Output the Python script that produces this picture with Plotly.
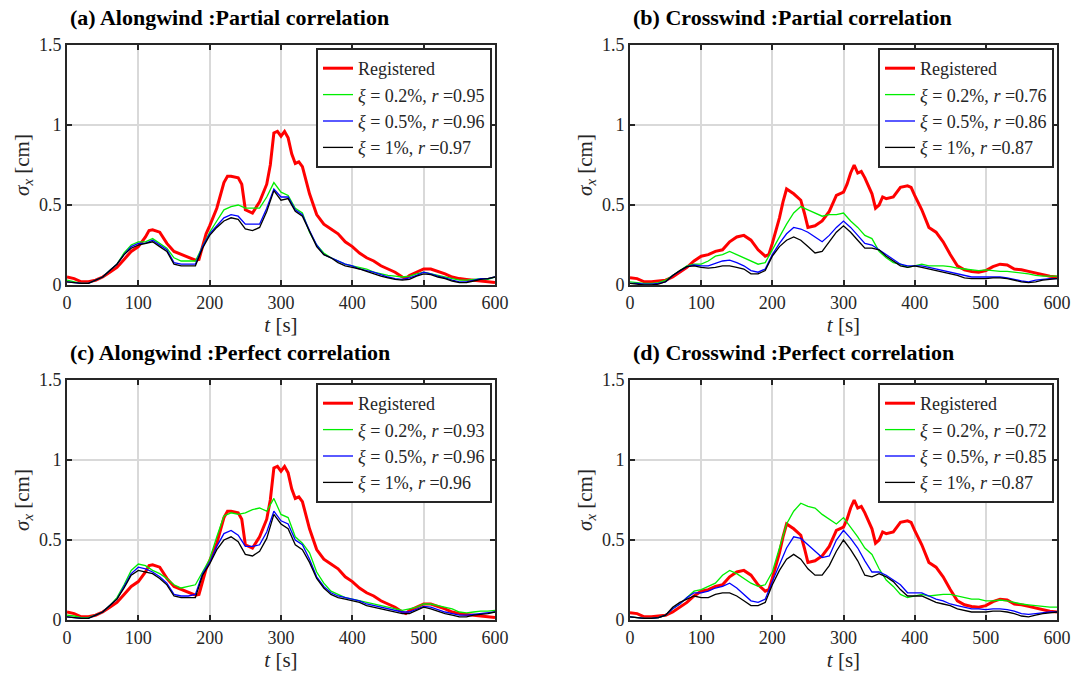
import plotly.graph_objects as go

W, H = 1075, 679

# ---------------- data ----------------
T10 = [0, 10, 20, 30, 40, 50, 60, 70, 80, 90,
       100, 110, 120, 130, 140, 150, 160, 170, 180, 190,
       200, 210, 220, 230, 240, 250, 260, 270, 280, 290,
       300, 310, 320, 330, 340, 350, 360, 370, 380, 390,
       400, 410, 420, 430, 440, 450, 460, 470, 480, 490,
       500, 510, 520, 530, 540, 550, 560, 570, 580, 590,
       600]

T_REG_ALONG = [0, 10, 20, 30, 40, 50, 60, 70, 80, 90,
               100, 110, 115, 120, 130, 140, 150, 160, 170, 180,
               185, 190, 195, 200, 210, 220, 225, 230, 240, 245,
               250, 260, 270, 280, 285, 290, 295, 300, 305, 310,
               315, 320, 325, 330, 335, 340, 350, 360, 370, 380,
               390, 400, 410, 420, 430, 440, 450, 460, 470, 475,
               480, 490, 500, 510, 520, 530, 540, 550, 560, 570,
               580, 590, 600]
REG_ALONG = [0.05, 0.04, 0.02, 0.02, 0.03, 0.05, 0.08, 0.11, 0.16, 0.21,
             0.24, 0.30, 0.34, 0.345, 0.33, 0.26, 0.21, 0.19, 0.17, 0.155,
             0.16, 0.24, 0.32, 0.37, 0.48, 0.64, 0.68, 0.68, 0.67, 0.63,
             0.47, 0.45, 0.52, 0.63, 0.75, 0.95, 0.96, 0.93, 0.96, 0.92,
             0.82, 0.76, 0.77, 0.74, 0.66, 0.57, 0.44, 0.38, 0.35, 0.32,
             0.27, 0.24, 0.20, 0.17, 0.15, 0.12, 0.10, 0.08, 0.05, 0.04,
             0.06, 0.08, 0.10, 0.10, 0.085, 0.07, 0.05, 0.04, 0.035, 0.03,
             0.025, 0.02, 0.015]

T_REG_CROSS = [0, 10, 20, 30, 40, 50, 60, 70, 80, 90,
               100, 110, 120, 130, 140, 150, 160, 170, 180, 190,
               195, 200, 210, 215, 220, 230, 240, 245, 250, 260,
               270, 280, 290, 300, 305, 310, 315, 320, 325, 330,
               340, 345, 350, 355, 360, 370, 380, 390, 395, 400,
               410, 420, 430, 440, 450, 460, 470, 480, 490, 500,
               510, 520, 530, 540, 550, 560, 570, 580, 590, 600]
REG_CROSS = [0.045, 0.04, 0.02, 0.02, 0.025, 0.03, 0.05, 0.08, 0.11, 0.15,
             0.18, 0.19, 0.21, 0.22, 0.27, 0.30, 0.31, 0.28, 0.22, 0.18,
             0.19, 0.26, 0.42, 0.52, 0.60, 0.57, 0.53, 0.45, 0.36, 0.37,
             0.40, 0.46, 0.56, 0.58, 0.63, 0.70, 0.75, 0.70, 0.71, 0.67,
             0.57, 0.48, 0.50, 0.55, 0.54, 0.55, 0.61, 0.62, 0.61, 0.56,
             0.47, 0.36, 0.33, 0.27, 0.19, 0.12, 0.095, 0.085, 0.08, 0.09,
             0.115, 0.13, 0.125, 0.10, 0.095, 0.085, 0.075, 0.065, 0.055, 0.05]

A_XI02 = [0.03, 0.02, 0.01, 0.01, 0.03, 0.05, 0.09, 0.13, 0.20, 0.25,
          0.27, 0.27, 0.29, 0.26, 0.23, 0.17, 0.15, 0.15, 0.15, 0.24,
          0.33, 0.40, 0.47, 0.49, 0.50, 0.48, 0.48, 0.48, 0.55, 0.64,
          0.58, 0.56, 0.48, 0.45, 0.33, 0.25, 0.20, 0.17, 0.15, 0.13,
          0.12, 0.11, 0.10, 0.08, 0.07, 0.06, 0.055, 0.05, 0.055, 0.07,
          0.08, 0.07, 0.06, 0.05, 0.04, 0.03, 0.03, 0.035, 0.04, 0.035,
          0.05]
A_XI05 = [0.02, 0.015, 0.01, 0.01, 0.03, 0.05, 0.09, 0.13, 0.19, 0.24,
          0.26, 0.26, 0.28, 0.25, 0.22, 0.14, 0.13, 0.13, 0.13, 0.24,
          0.32, 0.37, 0.42, 0.44, 0.43, 0.38, 0.38, 0.38, 0.48, 0.60,
          0.55, 0.55, 0.47, 0.44, 0.34, 0.25, 0.19, 0.17, 0.15, 0.13,
          0.12, 0.10, 0.09, 0.08, 0.065, 0.05, 0.04, 0.035, 0.045, 0.06,
          0.08, 0.07, 0.055, 0.045, 0.03, 0.02, 0.02, 0.03, 0.04, 0.04,
          0.05]
A_XI1 = [0.02, 0.015, 0.01, 0.01, 0.03, 0.05, 0.09, 0.13, 0.19, 0.23,
         0.25, 0.26, 0.27, 0.24, 0.21, 0.13, 0.12, 0.12, 0.12, 0.23,
         0.31, 0.36, 0.40, 0.42, 0.41, 0.35, 0.34, 0.36, 0.46, 0.59,
         0.53, 0.54, 0.46, 0.43, 0.33, 0.24, 0.19, 0.17, 0.14, 0.12,
         0.11, 0.10, 0.085, 0.07, 0.055, 0.045, 0.035, 0.03, 0.035, 0.055,
         0.07, 0.065, 0.05, 0.04, 0.025, 0.015, 0.015, 0.025, 0.035, 0.04,
         0.05]

B_XI02 = [0.02, 0.015, 0.01, 0.01, 0.015, 0.03, 0.06, 0.09, 0.12, 0.13,
          0.13, 0.15, 0.18, 0.19, 0.21, 0.19, 0.17, 0.15, 0.13, 0.14,
          0.22, 0.30, 0.38, 0.45, 0.49, 0.47, 0.45, 0.43, 0.44, 0.44,
          0.45, 0.40, 0.36, 0.31, 0.29, 0.21, 0.17, 0.14, 0.13, 0.11,
          0.12, 0.13, 0.12, 0.12, 0.12, 0.115, 0.105, 0.10, 0.095, 0.09,
          0.095, 0.09, 0.085, 0.085, 0.08, 0.075, 0.07, 0.06, 0.055, 0.055,
          0.055]
B_XI05 = [0.01, 0.01, 0.005, 0.005, 0.01, 0.02, 0.06, 0.09, 0.115, 0.125,
          0.12, 0.12, 0.135, 0.15, 0.155, 0.14, 0.12, 0.09, 0.08, 0.10,
          0.19, 0.26, 0.32, 0.36, 0.35, 0.33, 0.30, 0.27, 0.31, 0.36,
          0.40, 0.36, 0.31, 0.26, 0.25, 0.22, 0.19, 0.16, 0.13, 0.12,
          0.12, 0.12, 0.11, 0.10, 0.09, 0.08, 0.07, 0.06, 0.05, 0.05,
          0.05, 0.05, 0.05, 0.045, 0.035, 0.025, 0.02, 0.03, 0.035, 0.04,
          0.04]
B_XI1 = [0.01, 0.005, 0.0, 0.0, 0.005, 0.02, 0.06, 0.09, 0.115, 0.12,
         0.11, 0.105, 0.11, 0.12, 0.12, 0.11, 0.10, 0.07, 0.07, 0.09,
         0.18, 0.24, 0.28, 0.30, 0.28, 0.24, 0.20, 0.21, 0.27, 0.33,
         0.37, 0.33, 0.28, 0.23, 0.23, 0.22, 0.18, 0.15, 0.12, 0.11,
         0.12, 0.11, 0.10, 0.09, 0.08, 0.07, 0.06, 0.045, 0.04, 0.04,
         0.04, 0.045, 0.045, 0.04, 0.03, 0.02, 0.015, 0.02, 0.03, 0.035,
         0.04]

C_XI02 = [0.03, 0.025, 0.015, 0.015, 0.03, 0.05, 0.09, 0.14, 0.22, 0.31,
          0.35, 0.34, 0.31, 0.29, 0.26, 0.22, 0.20, 0.21, 0.22, 0.30,
          0.38, 0.52, 0.65, 0.67, 0.66, 0.67, 0.69, 0.70, 0.68, 0.76,
          0.66, 0.64, 0.52, 0.48, 0.42, 0.30, 0.23, 0.18, 0.16, 0.14,
          0.13, 0.12, 0.11, 0.10, 0.09, 0.08, 0.07, 0.06, 0.07, 0.08,
          0.10, 0.10, 0.09, 0.08, 0.07, 0.05, 0.045, 0.05, 0.055, 0.055,
          0.06]
C_XI05 = [0.02, 0.015, 0.01, 0.01, 0.03, 0.05, 0.09, 0.13, 0.21, 0.29,
          0.33, 0.32, 0.30, 0.27, 0.23, 0.16, 0.15, 0.15, 0.16, 0.29,
          0.36, 0.46, 0.54, 0.56, 0.53, 0.46, 0.46, 0.47, 0.55, 0.68,
          0.62, 0.60, 0.50, 0.47, 0.38, 0.27, 0.21, 0.17, 0.15, 0.14,
          0.13, 0.12, 0.10, 0.09, 0.08, 0.07, 0.06, 0.05, 0.05, 0.07,
          0.085, 0.08, 0.065, 0.05, 0.04, 0.03, 0.03, 0.035, 0.04, 0.045,
          0.05]
C_XI1 = [0.02, 0.015, 0.01, 0.01, 0.03, 0.05, 0.09, 0.13, 0.20, 0.28,
         0.31, 0.30, 0.29, 0.26, 0.22, 0.15, 0.14, 0.14, 0.14, 0.28,
         0.35, 0.44, 0.50, 0.52, 0.49, 0.41, 0.40, 0.43, 0.51, 0.66,
         0.60, 0.57, 0.47, 0.44, 0.36, 0.26, 0.20, 0.16, 0.14, 0.13,
         0.12, 0.11, 0.09, 0.08, 0.07, 0.06, 0.05, 0.04, 0.04, 0.06,
         0.08, 0.07, 0.055, 0.04, 0.03, 0.02, 0.02, 0.03, 0.035, 0.04,
         0.05]

D_XI02 = [0.02, 0.015, 0.01, 0.01, 0.015, 0.03, 0.07, 0.10, 0.14, 0.18,
          0.19, 0.21, 0.23, 0.28, 0.31, 0.29, 0.26, 0.23, 0.21, 0.22,
          0.30, 0.45, 0.60, 0.68, 0.73, 0.71, 0.70, 0.66, 0.63, 0.60,
          0.64, 0.58, 0.52, 0.45, 0.41, 0.32, 0.25, 0.21, 0.16, 0.14,
          0.15, 0.16, 0.15, 0.155, 0.16, 0.16, 0.15, 0.14, 0.13, 0.13,
          0.12, 0.12, 0.125, 0.12, 0.11, 0.10, 0.095, 0.09, 0.085, 0.08,
          0.08]
D_XI05 = [0.02, 0.015, 0.01, 0.01, 0.015, 0.03, 0.07, 0.10, 0.14, 0.17,
          0.17, 0.18, 0.20, 0.21, 0.23, 0.20, 0.16, 0.12, 0.11, 0.13,
          0.24, 0.35, 0.45, 0.52, 0.51, 0.47, 0.43, 0.39, 0.40, 0.50,
          0.56, 0.51, 0.45, 0.37, 0.30, 0.30, 0.28, 0.25, 0.22, 0.17,
          0.17, 0.17, 0.15, 0.13, 0.12, 0.10, 0.09, 0.08, 0.07, 0.07,
          0.065, 0.07, 0.07, 0.065, 0.055, 0.04, 0.035, 0.04, 0.045, 0.05,
          0.05]
D_XI1 = [0.02, 0.015, 0.01, 0.01, 0.015, 0.03, 0.08, 0.11, 0.13, 0.15,
         0.14, 0.14, 0.16, 0.17, 0.17, 0.15, 0.12, 0.09, 0.09, 0.11,
         0.22, 0.31, 0.38, 0.41, 0.38, 0.32, 0.28, 0.28, 0.34, 0.43,
         0.50, 0.44, 0.37, 0.28, 0.27, 0.29, 0.27, 0.24, 0.19, 0.15,
         0.15, 0.15, 0.13, 0.11, 0.10, 0.09, 0.07, 0.06, 0.05, 0.05,
         0.05, 0.055, 0.055, 0.05, 0.04, 0.025, 0.02, 0.03, 0.04, 0.045,
         0.05]

TITLES = ["(a) Alongwind :Partial correlation",
          "(b) Crosswind :Partial correlation",
          "(c) Alongwind :Perfect correlation",
          "(d) Crosswind :Perfect correlation"]
R_VALUES = [["0.95", "0.96", "0.97"],
            ["0.76", "0.86", "0.87"],
            ["0.93", "0.96", "0.96"],
            ["0.72", "0.85", "0.87"]]
XI_LABELS = ["0.2%", "0.5%", "1%"]
X_TICKS = [0, 100, 200, 300, 400, 500, 600]
Y_TICKS = [0, 0.5, 1, 1.5]
Y_TICK_TEXT = ["0", "0.5", "1", "1.5"]

for arr in [A_XI02, A_XI05, A_XI1, B_XI02, B_XI05, B_XI1,
            C_XI02, C_XI05, C_XI1, D_XI02, D_XI05, D_XI1]:
    assert len(arr) == len(T10), len(arr)
assert len(T_REG_ALONG) == len(REG_ALONG)
assert len(T_REG_CROSS) == len(REG_CROSS)

PANELS = [
    (T_REG_ALONG, REG_ALONG, [A_XI02, A_XI05, A_XI1]),
    (T_REG_CROSS, REG_CROSS, [B_XI02, B_XI05, B_XI1]),
    (T_REG_ALONG, REG_ALONG, [C_XI02, C_XI05, C_XI1]),
    (T_REG_CROSS, REG_CROSS, [D_XI02, D_XI05, D_XI1]),
]

X_LEFT = [67, 630, 67, 630]
X_RIGHT = [495, 1057, 495, 1057]
Y_TOP = [45, 45, 380, 380]
Y_BOT = [285, 285, 620, 620]

SERIF = "Liberation Serif, Times New Roman, Times, serif"
SIM_COLORS = ["#00ee00", "#0000ff", "#000000"]
AXC = "#262626"

fig = go.Figure()
layout = dict(width=W, height=H, margin=dict(l=0, r=0, t=0, b=0),
              paper_bgcolor="white", plot_bgcolor="white",
              font=dict(family=SERIF, size=18, color="#262626"),
              annotations=[])

for i, (t_reg, reg, sims) in enumerate(PANELS):
    n = i + 1
    xa = "x" if n == 1 else f"x{n}"
    ya = "y" if n == 1 else f"y{n}"
    lg = "legend" if n == 1 else f"legend{n}"
    fig.add_trace(go.Scatter(x=t_reg, y=reg, mode="lines", name="Registered",
                             line=dict(color="#ff0000", width=3),
                             xaxis=xa, yaxis=ya, legend=lg))
    for k, sim in enumerate(sims):
        name = f"<i>ξ</i> = {XI_LABELS[k]}, <i>r</i> ={R_VALUES[i][k]}"
        fig.add_trace(go.Scatter(x=T10, y=sim, mode="lines", name=name,
                                 line=dict(color=SIM_COLORS[k], width=1.3),
                                 xaxis=xa, yaxis=ya, legend=lg))
    xdom = [X_LEFT[i] / W, X_RIGHT[i] / W]
    ydom = [1 - Y_BOT[i] / H, 1 - Y_TOP[i] / H]
    axkey = "xaxis" if n == 1 else f"xaxis{n}"
    aykey = "yaxis" if n == 1 else f"yaxis{n}"
    common = dict(showline=True, linecolor=AXC, linewidth=2, mirror="ticks",
                  ticks="inside", ticklen=5, tickwidth=1.5, tickcolor=AXC,
                  showgrid=True, gridcolor="#d9d9d9", gridwidth=1.5,
                  zeroline=False, automargin=False,
                  tickfont=dict(family=SERIF, size=18, color="#262626"))
    layout[axkey] = dict(domain=xdom, range=[0, 600], anchor=ya,
                         tickvals=X_TICKS,
                         title=dict(text="<i>t</i> [s]", standoff=2,
                                    font=dict(family=SERIF, size=21, color="#262626")),
                         **common)
    layout[aykey] = dict(domain=ydom, range=[0, 1.5], anchor=xa,
                         tickvals=Y_TICKS, ticktext=Y_TICK_TEXT,
                         title=dict(text="<i>σ<sub>x</sub></i> [cm]", standoff=4,
                                    font=dict(family=SERIF, size=21, color="#262626")),
                         **common)
    layout[lg] = dict(x=(X_RIGHT[i] - 3) / W, y=1 - (Y_TOP[i] + 3) / H,
                      xanchor="right", yanchor="top",
                      bgcolor="white", bordercolor=AXC, borderwidth=2,
                      font=dict(family=SERIF, size=18, color="#262626"),
                      itemwidth=30, tracegroupgap=0)
    layout["annotations"].append(dict(
        text=f"<b>{TITLES[i]}</b>", x=(X_LEFT[i] + 1) / W, y=1 - (Y_TOP[i] - 28) / H,
        xref="paper", yref="paper", xanchor="left", yanchor="middle",
        showarrow=False, font=dict(family=SERIF, size=22, color="black")))

fig.update_layout(**layout)
fig.write_html("out.html")
